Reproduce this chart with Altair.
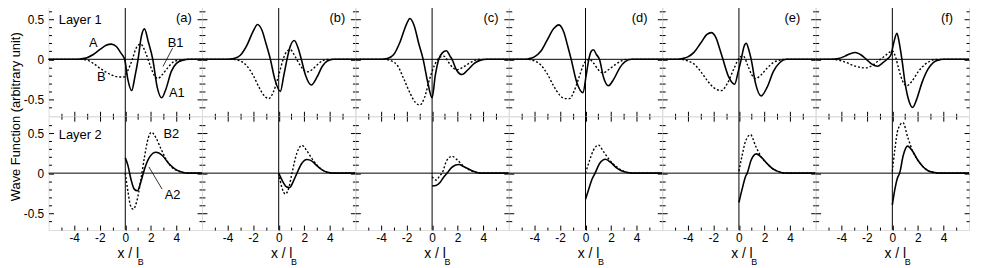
import altair as alt
import pandas as pd

W, H = 155, 115
X_DOMAIN = [-6, 6]
Y_DOMAIN = [-0.71, 0.71]

panel_tags = ["(a)", "(b)", "(c)", "(d)", "(e)", "(f)"]
tag_x = [5.2, 5.2, 5.2, 4.85, 4.8, 4.75]
tag_y = 0.52
row_labels = ["Layer 1", "Layer 2"]
row_label_x = -5.2
row_label_y = [0.49, 0.48]

x_minor_ticks = [-5, -4, -3, -2, -1, 0, 1, 2, 3, 4, 5]
y_minor_ticks = [-0.6, -0.5, -0.4, -0.3, -0.2, -0.1, 0, 0.1, 0.2, 0.3, 0.4, 0.5, 0.6]
x_tick_labels = [-4, -2, 0, 2, 4]
y_tick_labels = [-0.5, 0, 0.5]

# ---------------- Layer 1 (top row) ----------------
L1_a_A_x = [-6, -4, -3.5, -3, -2.5, -2, -1.5, -1.1, -0.7, -0.35, -0.05, 0.2, 0.5, 0.75, 1.0, 1.25, 1.5, 1.8, 2.15, 2.5, 2.85, 3.2, 3.6, 4.0, 4.5, 5, 6]
L1_a_A_y = [0, 0, 0.005, 0.02, 0.06, 0.12, 0.175, 0.19, 0.16, 0.08, 0.0, -0.25, -0.39, -0.22, 0.0, 0.28, 0.38, 0.22, 0.0, -0.35, -0.48, -0.36, -0.15, -0.05, -0.01, 0, 0]
L1_a_B_x = [-6, -3.5, -3, -2.5, -2, -1.5, -1, -0.5, -0.1, 0.2, 0.55, 0.85, 1.2, 1.6, 2.0, 2.3, 2.55, 2.9, 3.3, 3.7, 4.2, 5, 6]
L1_a_B_y = [0, 0, -0.01, -0.05, -0.11, -0.16, -0.2, -0.22, -0.22, -0.14, 0.0, 0.14, 0.19, 0.08, -0.1, -0.21, -0.24, -0.19, -0.11, -0.04, -0.01, 0, 0]

L1_b_A_x = [-6, -4, -3.5, -3, -2.5, -2, -1.65, -1.3, -1.0, -0.65, -0.3, 0.13, 0.4, 0.65, 0.9, 1.22, 1.5, 1.77, 2.1, 2.55, 3.0, 3.4, 3.8, 4.3, 6]
L1_b_A_y = [0, 0, 0.01, 0.05, 0.17, 0.35, 0.435, 0.36, 0.2, 0.0, -0.25, -0.40, -0.2, 0.0, 0.16, 0.235, 0.15, 0.0, -0.2, -0.32, -0.22, -0.09, -0.02, 0, 0]
L1_b_B_x = [-6, -3.6, -3, -2.5, -2, -1.5, -1.1, -0.78, -0.4, 0, 0.35, 0.6, 0.91, 1.3, 1.7, 2.2, 2.6, 3.0, 3.4, 3.8, 6]
L1_b_B_y = [0, 0, -0.02, -0.08, -0.2, -0.36, -0.46, -0.49, -0.4, -0.2, 0.0, 0.09, 0.12, 0.03, -0.08, -0.157, -0.13, -0.07, -0.02, 0, 0]

L1_c_A_x = [-6, -4, -3.5, -3, -2.5, -2, -1.74, -1.4, -1.05, -0.7, -0.35, 0.0, 0.25, 0.52, 0.8, 1.12, 1.4, 1.56, 1.9, 2.34, 2.8, 3.3, 3.8, 4.3, 6]
L1_c_A_y = [0, 0, 0.01, 0.06, 0.22, 0.44, 0.51, 0.42, 0.2, 0.0, -0.28, -0.48, -0.2, 0.0, 0.08, 0.107, 0.04, 0.0, -0.13, -0.19, -0.13, -0.05, -0.01, 0, 0]
L1_c_B_x = [-6, -3.8, -3.2, -2.7, -2.2, -1.7, -1.3, -0.96, -0.6, -0.2, 0.2, 0.55, 0.91, 1.3, 1.6, 1.95, 2.4, 2.9, 3.4, 3.8, 6]
L1_c_B_y = [0, 0, -0.02, -0.08, -0.25, -0.43, -0.54, -0.57, -0.48, -0.25, -0.07, 0.02, 0.04, -0.04, -0.1, -0.13, -0.1, -0.05, -0.01, 0, 0]

L1_d_A_x = [-6, -4.8, -4.5, -4, -3.5, -3, -2.5, -2.08, -1.7, -1.4, -1.12, -0.7, -0.2, 0.05, 0.26, 0.45, 0.62, 0.85, 1.09, 1.4, 1.79, 2.2, 2.7, 3.1, 3.6, 6]
L1_d_A_y = [0, 0, 0.005, 0.03, 0.1, 0.24, 0.38, 0.43, 0.34, 0.17, 0.0, -0.28, -0.415, -0.2, 0.0, 0.1, 0.12, 0.06, 0.0, -0.22, -0.33, -0.25, -0.1, -0.03, 0, 0]
L1_d_B_x = [-6, -4.6, -4, -3.5, -3, -2.5, -2, -1.6, -1.25, -0.9, -0.5, -0.1, 0.3, 0.6, 1.0, 1.35, 1.8, 2.3, 2.8, 3.2, 6]
L1_d_B_y = [0, 0, -0.02, -0.07, -0.18, -0.33, -0.45, -0.49, -0.49, -0.4, -0.22, -0.05, 0.0, -0.04, -0.13, -0.17, -0.13, -0.07, -0.02, 0, 0]

L1_e_A_x = [-6, -4.8, -4.4, -4, -3.5, -3, -2.5, -2.16, -1.8, -1.5, -1.25, -0.8, -0.34, -0.05, 0.18, 0.4, 0.57, 0.77, 0.96, 1.3, 1.74, 2.2, 2.7, 3.2, 3.7, 6]
L1_e_A_y = [0, 0, 0.01, 0.03, 0.09, 0.2, 0.31, 0.333, 0.27, 0.13, 0.0, -0.22, -0.31, -0.15, 0.0, 0.16, 0.2, 0.12, 0.0, -0.3, -0.457, -0.35, -0.15, -0.04, 0, 0]
L1_e_B_x = [-6, -4.6, -4, -3.5, -3, -2.5, -2, -1.38, -0.9, -0.4, 0.1, 0.35, 0.7, 1.0, 1.3, 1.7, 2.2, 2.7, 3.2, 3.5, 6]
L1_e_B_y = [0, 0, -0.02, -0.06, -0.15, -0.26, -0.35, -0.39, -0.3, -0.12, 0.03, 0.04, -0.08, -0.19, -0.24, -0.2, -0.11, -0.04, -0.01, 0, 0]

L1_f_A_x = [-6, -4.8, -4.2, -3.7, -3.3, -2.88, -2.5, -2.03, -1.6, -1.14, -0.8, -0.41, -0.1, 0.1, 0.36, 0.55, 0.75, 1.0, 1.3, 1.58, 1.9, 2.3, 2.8, 3.2, 3.6, 4.0, 6]
L1_f_A_y = [0, 0, 0.01, 0.04, 0.07, 0.086, 0.06, 0.0, -0.06, -0.086, -0.05, 0.0, 0.06, 0.2, 0.325, 0.2, 0.0, -0.3, -0.52, -0.6, -0.5, -0.3, -0.12, -0.04, -0.01, 0, 0]
L1_f_B_x = [-6, -4.8, -4.2, -3.6, -3, -2.5, -2.1, -1.6, -1.1, -0.6, -0.2, 0.0, 0.25, 0.5, 0.8, 1.14, 1.5, 2.0, 2.5, 3.0, 3.3, 6]
L1_f_B_y = [0, 0, -0.01, -0.04, -0.08, -0.1, -0.107, -0.08, -0.02, 0.04, 0.09, 0.107, 0.03, -0.12, -0.27, -0.33, -0.28, -0.16, -0.07, -0.02, 0, 0]

# ---------------- Layer 2 (bottom row) ----------------
L2_a_A_x = [0, 0.2, 0.45, 0.7, 0.95, 1.2, 1.5, 1.9, 2.4, 2.9, 3.4, 3.9, 4.4, 5, 6]
L2_a_A_y = [0.19, 0.1, -0.08, -0.2, -0.22, -0.12, 0.05, 0.2, 0.26, 0.22, 0.12, 0.05, 0.015, 0, 0]
L2_a_B_x = [0, 0.2, 0.4, 0.62, 0.9, 1.2, 1.5, 1.8, 2.05, 2.4, 2.8, 3.2, 3.6, 4.0, 4.5, 5, 6]
L2_a_B_y = [0.0, -0.22, -0.4, -0.45, -0.35, -0.1, 0.2, 0.44, 0.51, 0.44, 0.3, 0.17, 0.08, 0.035, 0.01, 0, 0]

L2_b_A_x = [0, 0.3, 0.6, 0.86, 1.15, 1.43, 1.8, 2.2, 2.6, 3.0, 3.4, 3.8, 4.3, 6]
L2_b_A_y = [0.0, -0.1, -0.17, -0.18, -0.1, 0.0, 0.12, 0.17, 0.15, 0.09, 0.04, 0.01, 0, 0]
L2_b_B_x = [0, 0.25, 0.52, 0.8, 1.04, 1.4, 1.82, 2.2, 2.6, 3.0, 3.4, 3.8, 4.3, 6]
L2_b_B_y = [0.0, -0.18, -0.26, -0.18, 0.0, 0.24, 0.346, 0.28, 0.18, 0.1, 0.04, 0.01, 0, 0]

L2_c_A_x = [0, 0.3, 0.6, 0.9, 1.17, 1.6, 2.08, 2.5, 3.0, 3.4, 3.8, 6]
L2_c_A_y = [-0.16, -0.155, -0.12, -0.05, 0.0, 0.08, 0.107, 0.08, 0.04, 0.015, 0, 0]
L2_c_B_x = [0, 0.34, 0.6, 0.78, 1.15, 1.56, 2.0, 2.5, 3.0, 3.4, 3.8, 6]
L2_c_B_y = [-0.045, -0.086, -0.03, 0.0, 0.16, 0.21, 0.16, 0.08, 0.035, 0.01, 0, 0]

L2_d_A_x = [0, 0.25, 0.5, 0.75, 1.1, 1.56, 2.0, 2.4, 2.8, 3.2, 3.6, 6]
L2_d_A_y = [-0.325, -0.2, -0.08, 0.0, 0.12, 0.173, 0.13, 0.07, 0.03, 0.01, 0, 0]
L2_d_B_x = [0, 0.3, 0.6, 1.01, 1.4, 1.8, 2.13, 2.5, 2.9, 3.2, 3.6, 6]
L2_d_B_y = [0.0, 0.15, 0.28, 0.35, 0.27, 0.18, 0.12, 0.07, 0.03, 0.01, 0, 0]

L2_e_A_x = [0, 0.25, 0.5, 0.65, 0.95, 1.37, 1.8, 2.2, 2.6, 3.0, 3.4, 3.8, 6]
L2_e_A_y = [-0.366, -0.2, -0.05, 0.0, 0.16, 0.24, 0.19, 0.12, 0.06, 0.025, 0.005, 0, 0]
L2_e_B_x = [0, 0.25, 0.5, 0.91, 1.3, 1.8, 2.2, 2.6, 3.0, 3.4, 3.8, 6]
L2_e_B_y = [0.025, 0.22, 0.39, 0.48, 0.34, 0.19, 0.12, 0.06, 0.025, 0.005, 0, 0]

L2_f_A_x = [0, 0.2, 0.4, 0.57, 0.85, 1.19, 1.6, 2.0, 2.4, 2.8, 3.2, 3.6, 6]
L2_f_A_y = [-0.395, -0.2, -0.06, 0.0, 0.22, 0.337, 0.27, 0.16, 0.08, 0.03, 0.01, 0, 0]
L2_f_B_x = [0, 0.2, 0.45, 0.83, 1.2, 1.66, 2.0, 2.4, 2.8, 3.2, 3.6, 6]
L2_f_B_y = [0.02, 0.3, 0.55, 0.63, 0.45, 0.25, 0.16, 0.08, 0.03, 0.01, 0, 0]

# curve labels (panel a only)
top_label_text = ["A", "B", "B1", "A1"]
top_label_x = [-2.5, -1.87, 3.94, 4.03]
top_label_y = [0.2, -0.22, 0.2, -0.416]
bot_label_text = ["B2", "A2"]
bot_label_x = [3.6, 3.7]
bot_label_y = [0.49, -0.27]
top_leader = {"x": [3.7], "y": [0.14], "x2": [2.95], "y2": [-0.09]}
bot_leader = {"x": [1.85], "y": [0.077], "x2": [2.88], "y2": [-0.2]}

curves = [
    [(L1_a_A_x, L1_a_A_y, L1_a_B_x, L1_a_B_y), (L1_b_A_x, L1_b_A_y, L1_b_B_x, L1_b_B_y),
     (L1_c_A_x, L1_c_A_y, L1_c_B_x, L1_c_B_y), (L1_d_A_x, L1_d_A_y, L1_d_B_x, L1_d_B_y),
     (L1_e_A_x, L1_e_A_y, L1_e_B_x, L1_e_B_y), (L1_f_A_x, L1_f_A_y, L1_f_B_x, L1_f_B_y)],
    [(L2_a_A_x, L2_a_A_y, L2_a_B_x, L2_a_B_y), (L2_b_A_x, L2_b_A_y, L2_b_B_x, L2_b_B_y),
     (L2_c_A_x, L2_c_A_y, L2_c_B_x, L2_c_B_y), (L2_d_A_x, L2_d_A_y, L2_d_B_x, L2_d_B_y),
     (L2_e_A_x, L2_e_A_y, L2_e_B_x, L2_e_B_y), (L2_f_A_x, L2_f_A_y, L2_f_B_x, L2_f_B_y)],
]

FONT = "Liberation Sans"
X_MAJOR = "abs(round(datum.value)) % 2 == 0"
Y_MAJOR = "abs(round(datum.value * 10)) % 5 == 0"


def xenc(axis=None, field="x"):
    return alt.X(f"{field}:Q", scale=alt.Scale(domain=X_DOMAIN, nice=False, zero=False), axis=axis)


def yenc(axis=None, field="y"):
    return alt.Y(f"{field}:Q", scale=alt.Scale(domain=Y_DOMAIN, nice=False, zero=False), axis=axis)


def tick_axis(orient, offset, values, test):
    return alt.Axis(orient=orient, offset=offset, values=values, labels=False, domain=False,
                    grid=False, ticks=True, tickColor="black", tickWidth=1,
                    tickSize={"condition": {"test": test, "value": 5}, "value": 3}, title=None)


def make_panel(r, c):
    ax, ay, bx, by = curves[r][c]
    one = pd.DataFrame({"z": [0]})
    hzero = alt.Chart(one).mark_rule(color="black", strokeWidth=1).encode(y=yenc(None, "z"))
    vzero = alt.Chart(one).mark_rule(color="black", strokeWidth=1).encode(x=xenc(None, "z"))
    solid = alt.Chart(pd.DataFrame({"x": ax, "y": ay})).mark_line(
        color="black", strokeWidth=1.6, interpolate="monotone").encode(
        x=xenc(tick_axis("bottom", -H, x_minor_ticks, X_MAJOR)),
        y=yenc(tick_axis("right", -W, y_minor_ticks, Y_MAJOR)))
    dotted = alt.Chart(pd.DataFrame({"x": bx, "y": by})).mark_line(
        color="black", strokeWidth=1.4, strokeDash=[2, 2], interpolate="monotone").encode(
        x=xenc(tick_axis("top", -H, x_minor_ticks, X_MAJOR)),
        y=yenc(tick_axis("left", -W, y_minor_ticks, Y_MAJOR)))

    x_lab_axis = None
    if r == 1:
        x_lab_axis = alt.Axis(orient="bottom", values=x_tick_labels, labelExpr="toString(datum.value)",
                              ticks=False, tickSize=0, domain=False, grid=False, labelPadding=3,
                              labelFontSize=12, labelColor="black", labelFont=FONT,
                              title="x / l", titleX=80, titleFontSize=14, titleFontWeight="normal",
                              titleColor="black", titleFont=FONT, titlePadding=3)
    y_lab_axis = None
    if c == 0:
        if r == 0:
            y_lab_axis = alt.Axis(orient="left", values=y_tick_labels, labelExpr="toString(datum.value)",
                                  ticks=False, tickSize=0, domain=False, grid=False, labelPadding=5,
                                  labelFontSize=12, labelColor="black", labelFont=FONT,
                                  title="Wave Function (arbitrary unit)", titleY=H, titleFontSize=13,
                                  titleFontWeight="normal", titleColor="black", titleFont=FONT,
                                  titlePadding=1)
        else:
            y_lab_axis = alt.Axis(orient="left", values=y_tick_labels, labelExpr="toString(datum.value)",
                                  ticks=False, tickSize=0, domain=False, grid=False, labelPadding=5,
                                  labelFontSize=12, labelColor="black", labelFont=FONT, title=None)

    # anchor layer for the label axes (invisible point at the origin)
    anchor = alt.Chart(pd.DataFrame({"x": [0], "y": [0]})).mark_point(opacity=0).encode(
        x=xenc(x_lab_axis), y=yenc(y_lab_axis))

    layers = [hzero, vzero, solid, dotted, anchor]

    if r == 0:
        tag = alt.Chart(pd.DataFrame({"x": [tag_x[c]], "y": [tag_y], "t": [panel_tags[c]]})).mark_text(
            align="right", baseline="middle", fontSize=13, color="black", font=FONT).encode(
            x=xenc(None), y=yenc(None), text="t:N")
        layers.append(tag)

    if c == 0:
        rl = alt.Chart(pd.DataFrame({"x": [row_label_x], "y": [row_label_y[r]], "t": [row_labels[r]]})).mark_text(
            align="left", baseline="middle", fontSize=13, color="black", font=FONT).encode(
            x=xenc(None), y=yenc(None), text="t:N")
        layers.append(rl)
        if r == 0:
            lt, lx, ly, ld = top_label_text, top_label_x, top_label_y, top_leader
        else:
            lt, lx, ly, ld = bot_label_text, bot_label_x, bot_label_y, bot_leader
        cl = alt.Chart(pd.DataFrame({"x": lx, "y": ly, "t": lt})).mark_text(
            align="center", baseline="middle", fontSize=13, color="black", font=FONT).encode(
            x=xenc(None), y=yenc(None), text="t:N")
        lead = alt.Chart(pd.DataFrame(ld)).mark_rule(color="black", strokeWidth=0.8).encode(
            x=xenc(None), y=yenc(None), x2="x2:Q", y2="y2:Q")
        layers += [cl, lead]

    if r == 1:
        sub = alt.Chart(pd.DataFrame({"t": ["B"]})).mark_text(
            align="center", baseline="middle", fontSize=9, color="black", font=FONT).encode(
            x=alt.value(93), y=alt.value(H + 32), text="t:N")
        layers.append(sub)

    return alt.layer(*layers).properties(width=W, height=H).resolve_axis(x="independent", y="independent")


panels = [make_panel(r, c) for r in range(2) for c in range(6)]

chart = alt.concat(*panels, columns=6, spacing=0, bounds="flush").properties(
    padding={"left": 0, "top": -8, "right": 0, "bottom": 0}
).configure_view(stroke="black", strokeWidth=1).configure(font=FONT)

chart.save("out.html", embed_options={"renderer": "svg", "actions": False})
